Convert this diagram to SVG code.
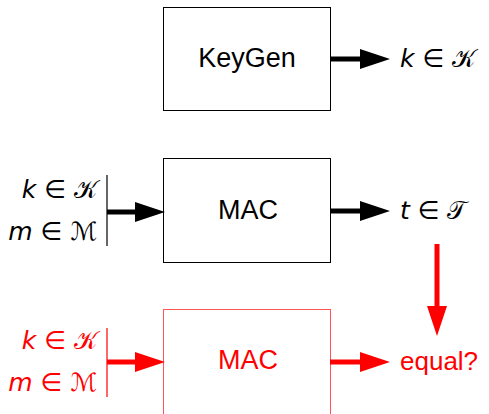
<svg xmlns="http://www.w3.org/2000/svg" width="489" height="414" viewBox="0 0 489 414">
<defs>
<style>
.box{fill:#fff;stroke:#000;stroke-width:1}
.rbox{fill:#fff;stroke:#ff5555;stroke-width:1}
.lbl{font-family:"Liberation Sans",Arial,sans-serif;font-size:27px;text-anchor:middle;dominant-baseline:central}
.m{font-family:"DejaVu Sans","Liberation Sans",sans-serif;font-size:25px;dominant-baseline:central}
.it{font-style:italic}
.blk{fill:#000}
.red{fill:#ff0000}
.sh{stroke-width:5;fill:none}
</style>
<marker id="ab" markerWidth="6" markerHeight="4" refX="0" refY="2" orient="auto" markerUnits="strokeWidth"><path d="M0,0L6,2L0,4Z" fill="#000"/></marker>
<marker id="ar" markerWidth="6" markerHeight="4" refX="0" refY="2" orient="auto" markerUnits="strokeWidth"><path d="M0,0L6,2L0,4Z" fill="#f00"/></marker>
</defs>
<rect width="489" height="414" fill="#fff"/>
<g id="keygen"><rect class="box" x="163.5" y="7.5" width="167" height="103"/><text class="lbl" x="247" y="58">KeyGen</text></g>
<g id="mac1"><rect class="box" x="163.5" y="158.5" width="167" height="104"/><text class="lbl" x="248" y="210">MAC</text></g>
<g id="mac2"><rect class="rbox" x="163.5" y="309.5" width="167" height="120"/><text class="lbl red" x="248" y="360">MAC</text></g>
<g id="labels">
<text class="m" x="400" y="58"><tspan class="it">k</tspan> ∈ 𝒦</text>
<text class="m" x="97" y="189" text-anchor="end"><tspan class="it">k</tspan> ∈ 𝒦</text>
<text class="m" x="97" y="231" text-anchor="end"><tspan class="it">m</tspan> ∈ ℳ</text>
<text class="m" x="400" y="210"><tspan class="it">t</tspan> ∈ 𝒯</text>
<text class="m red" x="97" y="340" text-anchor="end"><tspan class="it">k</tspan> ∈ 𝒦</text>
<text class="m red" x="97" y="382" text-anchor="end"><tspan class="it">m</tspan> ∈ ℳ</text>
<text class="lbl red" x="400" y="361" style="text-anchor:start;font-size:26px">equal?</text>
</g>
<g id="connectors">
<path class="sh" stroke="#000" d="M330,59H360" marker-end="url(#ab)"/>
<line x1="107" y1="175" x2="107" y2="246" stroke="#000" stroke-width="1.2"/>
<path class="sh" stroke="#000" d="M107,212H135" marker-end="url(#ab)"/>
<path class="sh" stroke="#000" d="M330,211H360" marker-end="url(#ab)"/>
<line x1="107" y1="328" x2="107" y2="397" stroke="#f00" stroke-width="1.2"/>
<path class="sh" stroke="#f00" d="M107,362H135" marker-end="url(#ar)"/>
<path class="sh" stroke="#f00" d="M330,362H360" marker-end="url(#ar)"/>
<path class="sh" stroke="#f00" d="M437,244V306" marker-end="url(#ar)"/>
</g>
</svg>
